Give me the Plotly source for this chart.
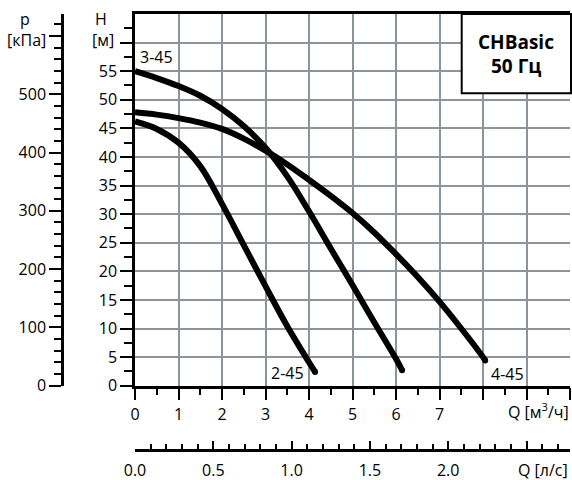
import plotly.graph_objects as go

# ---- data ----
q_2_45 = [0, 0.5, 1, 1.5, 2, 2.5, 3, 3.5, 4, 4.14]
h_2_45 = [46.2, 44.9, 42.5, 38.4, 31.8, 24.6, 17.4, 10.4, 4.1, 2.4]

q_3_45 = [0, 0.5, 1, 1.5, 2, 2.5, 3, 3.5, 4, 4.5, 5, 5.5, 6, 6.14]
h_3_45 = [55, 53.8, 52.4, 50.7, 48.4, 45.4, 41.6, 36.6, 30.5, 24.0, 17.6, 11.1, 4.7, 2.7]

q_4_45 = [0, 0.5, 1, 1.5, 2, 2.5, 3, 3.5, 4, 4.5, 5, 5.5, 6, 6.5, 7, 7.5, 8, 8.05]
h_4_45 = [47.8, 47.4, 46.8, 46.0, 44.9, 43.2, 41.1, 38.7, 36.0, 33.2, 30.2, 26.8, 23.0, 19.0, 14.7, 10.0, 5.0, 4.4]

curve_names = ["2-45", "3-45", "4-45"]
label_pos_q = [3.5, 0.5, 8.56]
label_pos_h = [2.3, 57.5, 2.0]

q_ticks = list(range(0, 11))
q_ticktext = ["0", "1", "2", "3", "4", "5", "6", "7", " ", " ", " "]
h_ticks = list(range(0, 65, 5))
h_ticktext = [str(v) for v in range(0, 60, 5)] + [" "]
p_ticks = list(range(0, 700, 100))
p_ticktext = ["0", "100", "200", "300", "400", "500", " "]
ls_ticks = [0.0, 0.5, 1.0, 1.5, 2.0, 2.5]
ls_ticktext = ["0.0", "0.5", "1.0", "1.5", "2.0", " "]

H_MAX = 65
Q_MAX = 10
KPA_PER_M = 9.81
M3H_PER_LS = 3.6

W, HGT = 572, 480
FONT = "Open Sans"
GRID = "#8d949c"

def px(x):
    return x / W

def py(y):
    return 1 - y / HGT

fig = go.Figure()
for q, h in [(q_2_45, h_2_45), (q_3_45, h_3_45), (q_4_45, h_4_45)]:
    fig.add_trace(go.Scatter(x=q, y=h, mode="lines",
                             line=dict(color="black", width=6, shape="spline", smoothing=1.0),
                             showlegend=False, hoverinfo="skip"))
    fig.add_trace(go.Scatter(x=[q[-1]], y=[h[-1]], mode="markers",
                             marker=dict(color="black", size=6),
                             showlegend=False, hoverinfo="skip"))

# dummy traces to activate secondary axes
fig.add_trace(go.Scatter(x=[None], y=[None], xaxis="x", yaxis="y2", showlegend=False, hoverinfo="skip"))
fig.add_trace(go.Scatter(x=[None], y=[None], xaxis="x2", yaxis="y", showlegend=False, hoverinfo="skip"))

xdom = [px(135), px(570)]
ydom = [py(385.7), py(14)]
tickfont = dict(family=FONT, size=16, color="black")

fig.update_layout(
    width=W, height=HGT,
    margin=dict(l=0, r=0, t=0, b=0, autoexpand=False),
    paper_bgcolor="white", plot_bgcolor="white",
    showlegend=False,
    xaxis=dict(domain=xdom, range=[0, Q_MAX], anchor="y", automargin=False,
               tickmode="array", tickvals=q_ticks, ticktext=q_ticktext,
               ticks="outside", ticklen=12, tickwidth=2, tickcolor="black",
               showline=True, linecolor="black", linewidth=2.5, mirror=True,
               showgrid=True, gridcolor=GRID, gridwidth=1.5, zeroline=False,
               minor=dict(tickmode="array", tickvals=[v + 0.5 for v in range(0, 10)],
                          ticks="outside", ticklen=7, tickwidth=2, tickcolor="black", showgrid=False),
               tickfont=tickfont, fixedrange=True),
    yaxis=dict(domain=ydom, range=[0, H_MAX], anchor="x", automargin=False,
               tickmode="array", tickvals=h_ticks, ticktext=h_ticktext,
               ticks="outside", ticklen=12, tickwidth=2, tickcolor="black",
               showline=True, linecolor="black", linewidth=2.5,
               showgrid=True, gridcolor=GRID, gridwidth=1.5, zeroline=False,
               minor=dict(tickmode="array", tickvals=[v + 2.5 for v in range(0, 65, 5)],
                          ticks="outside", ticklen=8, tickwidth=2, tickcolor="black", showgrid=False),
               tickfont=tickfont, fixedrange=True),
    yaxis2=dict(overlaying="y", anchor="free", position=px(62), side="left", automargin=False,
                range=[0, H_MAX * KPA_PER_M],
                tickmode="array", tickvals=p_ticks, ticktext=p_ticktext,
                ticks="outside", ticklen=12, tickwidth=2, tickcolor="black",
                showline=True, linecolor="black", linewidth=2.5,
                showgrid=False, zeroline=False,
                minor=dict(tickmode="array", tickvals=[v for v in range(20, 640, 20) if v % 100 != 0],
                           ticks="outside", ticklen=7, tickwidth=2, tickcolor="black", showgrid=False),
                tickfont=tickfont, fixedrange=True),
    xaxis2=dict(overlaying="x", anchor="free", position=py(450), side="bottom", automargin=False,
                range=[0, Q_MAX / M3H_PER_LS],
                tickmode="array", tickvals=ls_ticks, ticktext=ls_ticktext,
                ticks="inside", ticklen=8, tickwidth=2, tickcolor="black",
                showline=True, linecolor="black", linewidth=2.5,
                showgrid=False, zeroline=False, ticklabelstandoff=5,
                minor=dict(tickmode="array",
                           tickvals=[round(v * 0.1, 1) for v in range(1, 28) if v % 5 != 0],
                           ticks="inside", ticklen=5, tickwidth=2, tickcolor="black", showgrid=False),
                tickfont=tickfont, fixedrange=True),
)

# info box
fig.add_shape(type="rect", xref="paper", yref="paper",
              x0=px(461.7), x1=px(571), y0=py(93.3), y1=py(14),
              fillcolor="white", line=dict(color="black", width=2), layer="above")

ann = []
def text(x, y, s, size=16, bold=False, xanchor="center", xref="paper", yref="paper"):
    ann.append(dict(x=x, y=y, xref=xref, yref=yref, text=("<b>%s</b>" % s) if bold else s,
                    showarrow=False, xanchor=xanchor, yanchor="middle",
                    font=dict(family=FONT, size=size, color="black")))

text(px(516), py(42), "CHBasic", size=19, bold=True)
text(px(516), py(66), "50 Гц", size=19, bold=True)
text(px(25), py(19), "p")
text(px(26.5), py(40), "[кПа]")
text(px(101), py(19), "H")
text(px(102.5), py(40), "[м]")
text(px(571), py(411), "Q [м<sup>3</sup>/ч]", xanchor="right")
text(px(570), py(469.5), "Q [л/с]", xanchor="right")
for name, qx, hy in zip(curve_names, label_pos_q, label_pos_h):
    text(qx, hy, name, xref="x", yref="y")

fig.update_layout(annotations=ann)
fig.write_html("out.html", config={"displayModeBar": False},
               post_script="document.body.style.margin='0';document.body.style.overflow='hidden';")
